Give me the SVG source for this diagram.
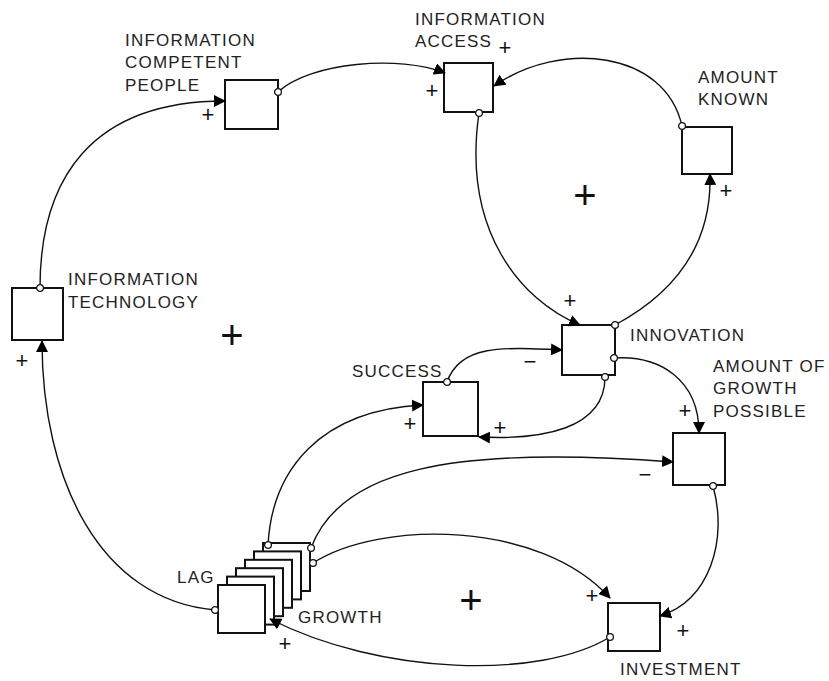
<svg xmlns="http://www.w3.org/2000/svg" width="829" height="681" viewBox="0 0 829 681">
<style>
.box{fill:#fff;stroke:#111;stroke-width:2}
.lbl{font-family:"Liberation Sans",Arial,sans-serif;font-size:17px;letter-spacing:1.2px;fill:#222}
.c{fill:none;stroke:#111;stroke-width:1.4;marker-end:url(#arr);marker-start:url(#dot)}
.sg{font-family:"Liberation Sans",Arial,sans-serif;font-size:22px;fill:#111;text-anchor:middle}
.big{font-family:"Liberation Sans",Arial,sans-serif;font-size:40px;fill:#111;text-anchor:middle}
</style>
<defs>
<marker id="arr" markerUnits="userSpaceOnUse" markerWidth="12" markerHeight="12" refX="11" refY="6" orient="auto">
<path d="M0,0 L12,6 L0,12 Z" fill="#000"/>
</marker>
<marker id="dot" markerUnits="userSpaceOnUse" markerWidth="10" markerHeight="10" refX="5" refY="5" orient="0">
<circle cx="5" cy="5" r="3.4" fill="#fff" stroke="#111" stroke-width="1.3"/>
</marker>
</defs>
<rect width="829" height="681" fill="#fff"/>

<g id="info-competent-people">
<rect class="box" x="225" y="80" width="53" height="49"/>
<text class="lbl" x="125" y="46">INFORMATION</text>
<text class="lbl" x="125" y="68">COMPETENT</text>
<text class="lbl" x="125" y="91">PEOPLE</text>
</g>
<g id="information-access">
<rect class="box" x="444" y="63" width="49" height="49"/>
<text class="lbl" x="415" y="25">INFORMATION</text>
<text class="lbl" x="415" y="47">ACCESS</text>
</g>
<g id="amount-known">
<rect class="box" x="682" y="127" width="50" height="47"/>
<text class="lbl" x="698" y="83">AMOUNT</text>
<text class="lbl" x="698" y="105">KNOWN</text>
</g>
<g id="information-technology">
<rect class="box" x="12" y="288" width="51" height="52"/>
<text class="lbl" x="68" y="285">INFORMATION</text>
<text class="lbl" x="68" y="308">TECHNOLOGY</text>
</g>
<g id="innovation">
<rect class="box" x="562" y="325" width="53" height="50"/>
<text class="lbl" x="630" y="341">INNOVATION</text>
</g>
<g id="success">
<rect class="box" x="423" y="382" width="55" height="54"/>
<text class="lbl" x="352" y="377">SUCCESS</text>
</g>
<g id="amount-of-growth-possible">
<rect class="box" x="673" y="433" width="52" height="52"/>
<text class="lbl" x="713" y="372">AMOUNT OF</text>
<text class="lbl" x="713" y="394">GROWTH</text>
<text class="lbl" x="713" y="417">POSSIBLE</text>
</g>
<g id="growth">
<rect class="box" x="263" y="543" width="47" height="48"/>
<rect class="box" x="254" y="551.4" width="47" height="48"/>
<rect class="box" x="245" y="559.8" width="47" height="48"/>
<rect class="box" x="236" y="568.2" width="47" height="48"/>
<rect class="box" x="227" y="576.6" width="47" height="48"/>
<rect class="box" x="218" y="585" width="47" height="48"/>
<text class="lbl" x="177" y="583">LAG</text>
<text class="lbl" x="298" y="623">GROWTH</text>
</g>
<g id="investment">
<rect class="box" x="608" y="603" width="52" height="48"/>
<text class="lbl" x="620" y="675">INVESTMENT</text>
</g>

<g id="connectors">
<path class="c" d="M40,288 C40,180 90,101 225,101"/>
<path class="c" d="M278,92 C310,62 400,55 445,73"/>
<path class="c" d="M682,126 C665,50 560,40 494,86"/>
<path class="c" d="M479,113 C462,230 520,300 580,325"/>
<path class="c" d="M615,325 C680,290 712,240 710,174"/>
<path class="c" d="M447,382 C460,345 500,347 562,350"/>
<path class="c" d="M605,377 C605,430 540,440 479,437"/>
<path class="c" d="M614,358 C660,355 699,380 699,433"/>
<path class="c" d="M268,545 C272,470 320,410 423,405"/>
<path class="c" d="M311,548 C340,470 450,445 673,462"/>
<path class="c" d="M313,563 C380,520 540,520 610,598"/>
<path class="c" d="M713,486 C728,540 710,600 660,616"/>
<path class="c" d="M610,637 C540,680 380,675 270,619"/>
<path class="c" d="M215,610 C100,600 42,480 42,341"/>
</g>

<g id="polarities">
<text class="sg" x="208" y="122">+</text>
<text class="sg" x="505" y="55">+</text>
<text class="sg" x="432" y="98">+</text>
<text class="sg" x="726" y="198">+</text>
<text class="sg" x="22" y="368">+</text>
<text class="sg" x="570" y="308">+</text>
<text class="sg" x="410" y="431">+</text>
<text class="sg" x="500" y="435">+</text>
<text class="sg" x="530" y="369">−</text>
<text class="sg" x="685" y="418">+</text>
<text class="sg" x="645" y="482">−</text>
<text class="sg" x="592" y="603">+</text>
<text class="sg" x="683" y="638">+</text>
<text class="sg" x="285" y="651">+</text>
<text class="big" x="585" y="209">+</text>
<text class="big" x="232" y="349">+</text>
<text class="big" x="471" y="614">+</text>
</g>
</svg>
